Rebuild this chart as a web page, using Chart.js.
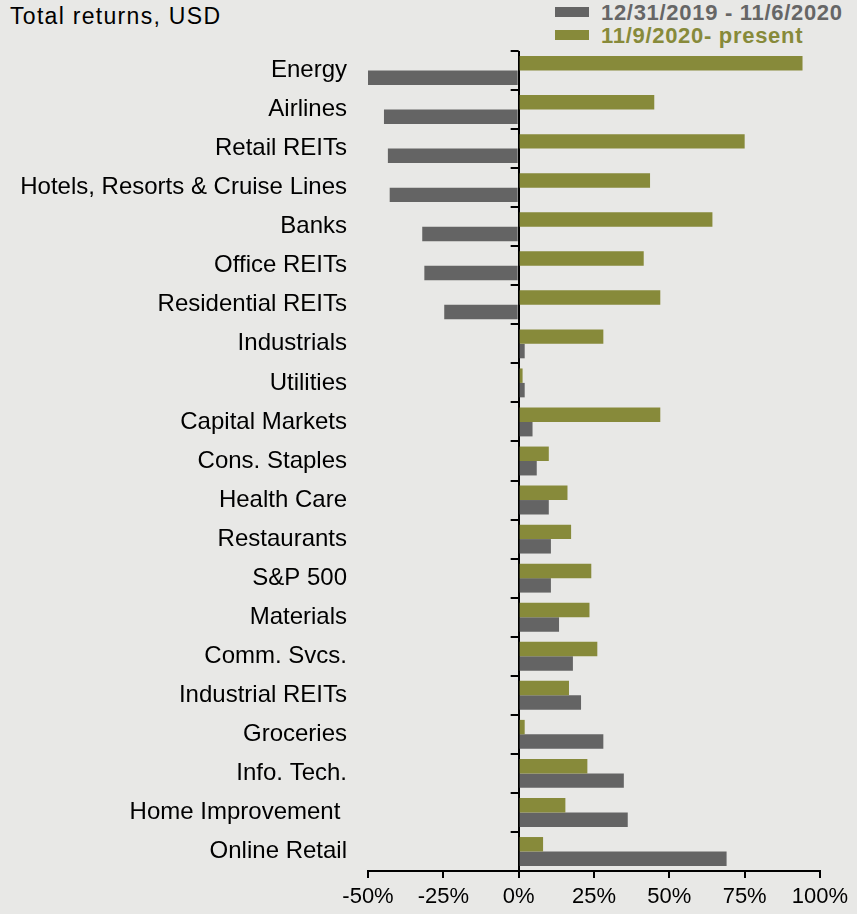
<!DOCTYPE html>
<html>
<head>
<meta charset="utf-8">
<script src="https://cdn.jsdelivr.net/npm/chart.js@4"></script>
<style>
  body { margin: 0; background: #e8e8e6; }
  .wrap { position: relative; width: 857px; height: 914px; background: #e8e8e6; font-family: "Liberation Sans", Arial, sans-serif; }
  .sub { position: absolute; left: 10px; top: 3px; font-size: 23px; letter-spacing: 1.3px; color: #000; }
  .leg { position: absolute; left: 555px; font-weight: bold; font-size: 22px; letter-spacing: 0.7px; white-space: nowrap; }
  .leg span { display: inline-block; width: 34px; height: 10px; margin-right: 12px; vertical-align: 3px; }
  canvas { position: absolute; left: 0; top: 0; }
</style>
</head>
<body>
<div class="wrap">
  <div class="sub">Total returns, USD</div>
  <div class="leg" style="top:0px;color:#666"><span style="background:#646464"></span>12/31/2019 - 11/6/2020</div>
  <div class="leg" style="top:23px;color:#878a3a"><span style="background:#878a3a"></span>11/9/2020- present</div>
  <canvas id="ChartSectors" width="857" height="914"></canvas>
</div>
<script>
var sectores = ['Energy', 'Airlines', 'Retail REITs', 'Hotels, Resorts & Cruise Lines', 'Banks',
  'Office REITs', 'Residential REITs', 'Industrials', 'Utilities', 'Capital Markets',
  'Cons. Staples', 'Health Care', 'Restaurants', 'S&P 500', 'Materials', 'Comm. Svcs.',
  'Industrial REITs', 'Groceries', 'Info. Tech.', 'Home Improvement ', 'Online Retail'];

// 12/31/2019 - 11/6/2020
var antes = [-50, -44.7, -43.4, -42.8, -32, -31.3, -24.7, 2, 2, 4.6,
  6, 10, 10.7, 10.7, 13.4, 18, 20.7, 28.1, 34.9, 36.2, 69];

// 11/9/2020- present
var depois = [94.2, 45, 75, 43.6, 64.3, 41.5, 47, 28.1, 1.3, 47,
  10, 16.2, 17.4, 24.1, 23.5, 26.1, 16.7, 2, 22.8, 15.5, 8.1];

var ticksX = [-50, -25, 0, 25, 50, 75, 100];

// risquinhos das categorias no eixo zero
const marcasCategoria = {
  id: 'marcasCategoria',
  afterDraw: (chart) => {
    const ctx = chart.ctx;
    const x0 = chart.scales.x.getPixelForValue(0);
    const y = chart.scales.y;
    const passo = (y.bottom - y.top) / sectores.length;
    ctx.save();
    ctx.strokeStyle = '#000';
    ctx.lineWidth = 2;
    for (var i = 0; i < sectores.length; i++) {
      var py = Math.round(y.top + i * passo);
      ctx.beginPath();
      ctx.moveTo(x0 - 8, py);
      ctx.lineTo(x0, py);
      ctx.stroke();
    }
    ctx.restore();
  }
};

Chart.defaults.font.family = '"Liberation Sans", Arial, sans-serif';
Chart.defaults.color = '#000';

const myChart = new Chart(document.getElementById('ChartSectors'), {
  type: 'bar',
  data: {
    labels: sectores,
    datasets: [{
      label: '11/9/2020- present',
      data: depois,
      backgroundColor: '#878a3a',
      barPercentage: 1,
      categoryPercentage: 0.74
    },
    {
      label: '12/31/2019 - 11/6/2020',
      data: antes,
      backgroundColor: '#646464',
      barPercentage: 1,
      categoryPercentage: 0.74
    }]
  },
  options: {
    indexAxis: 'y',
    responsive: false,
    animation: false,
    devicePixelRatio: 1,
    layout: { padding: { top: 51, right: 37, left: 0, bottom: 0 } },
    plugins: {
      legend: { display: false },
      tooltip: { enabled: false }
    },
    scales: {
      x: {
        min: -50,
        max: 100,
        afterBuildTicks: (scale) => {
          scale.ticks = ticksX.map(v => ({ value: v }));
        },
        afterFit: (scale) => { scale.height = 43; },
        ticks: {
          font: { size: 22 },
          padding: 6,
          maxRotation: 0,
          callback: (v) => v + '%'
        },
        grid: {
          drawOnChartArea: true,
          color: (c) => (c.tick && c.tick.value === 0) ? '#000' : 'rgba(0,0,0,0)',
          lineWidth: 2,
          tickColor: '#000',
          tickLength: 7,
          tickWidth: 2
        },
        border: { display: true, color: '#000', width: 2 }
      },
      y: {
        afterFit: (scale) => { scale.width = 368; },
        ticks: { font: { size: 24 }, padding: 21, autoSkip: false },
        grid: { display: false, drawTicks: false },
        border: { display: false }
      }
    }
  },
  plugins: [marcasCategoria]
});
</script>
</body>
</html>
